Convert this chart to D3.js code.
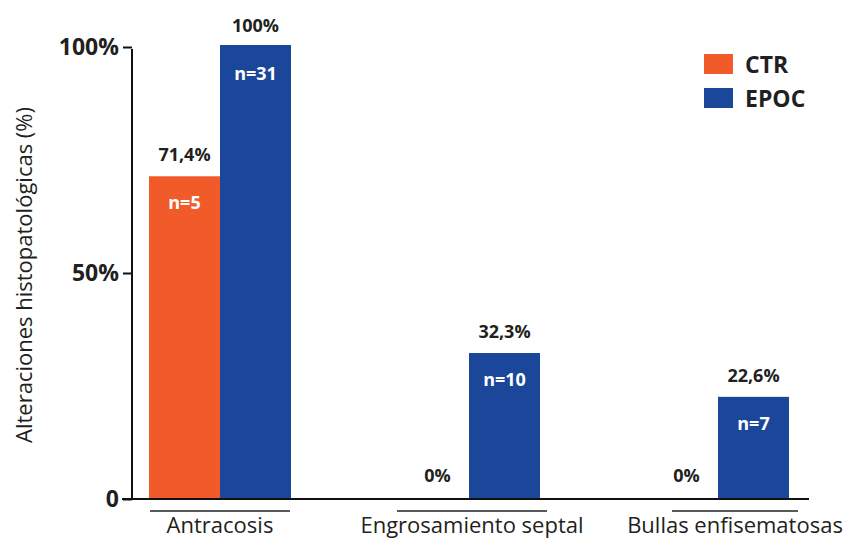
<!DOCTYPE html>
<html>
<head>
<meta charset="utf-8">
<script src="https://cdn.jsdelivr.net/npm/d3@7"></script>
<style>
  html, body { margin: 0; padding: 0; background: #fff; }
  svg { display: block; }
  text { font-family: "Open Sans", "Noto Sans", sans-serif; fill: #231f20; }
</style>
</head>
<body>
<svg id="chart" width="846" height="540"></svg>
<script>
// ---- data ----
const categories = ["Antracosis", "Engrosamiento septal", "Bullas enfisematosas"];
const seriesNames = ["CTR", "EPOC"];
const ctrValues = [71.4, 0, 0];
const epocValues = [100, 32.3, 22.6];
const ctrValueLabels = ["71,4%", "0%", "0%"];
const epocValueLabels = ["100%", "32,3%", "22,6%"];
const ctrCounts = ["n=5", "", ""];
const epocCounts = ["n=31", "n=10", "n=7"];
const yTickValues = [0, 50, 100];
const yTickLabels = ["0", "50%", "100%"];
const yTitle = "Alteraciones histopatológicas (%)";

// ---- styles ----
const colors = { CTR: "#f15a29", EPOC: "#1b479b" };
const labelShift = [0, 3, 17];
const underlineHalf = [70, 75, 63];

const svg = d3.select("#chart");

const x = d3.scalePoint().domain(categories).range([220, 718]);
const xs = d3.scaleBand().domain(seriesNames).range([-71, 71]).padding(0);
const y = d3.scaleLinear().domain([0, 100]).range([499, 47]);

const rows = [];
categories.forEach((c, i) => {
  rows.push({ cat: c, i, s: "CTR", v: ctrValues[i], lab: ctrValueLabels[i], n: ctrCounts[i] });
  rows.push({ cat: c, i, s: "EPOC", v: epocValues[i], lab: epocValueLabels[i], n: epocCounts[i] });
});

// bars
svg.append("g").selectAll("rect").data(rows.filter(d => d.v > 0)).join("rect")
  .attr("x", d => x(d.cat) + xs(d.s))
  .attr("width", xs.bandwidth())
  .attr("y", d => y(d.v) - (d.v === 100 ? 2 : 0))
  .attr("height", d => y(0) - y(d.v) + (d.v === 100 ? 2 : 0))
  .attr("fill", d => colors[d.s]);

// value labels
svg.append("g").selectAll("text").data(rows).join("text")
  .attr("x", d => x(d.cat) + xs(d.s) + xs.bandwidth() / 2 + (d.v === 0 ? 4 : 0))
  .attr("y", d => y(d.v) - (d.v === 0 ? 17 : 15))
  .attr("text-anchor", "middle")
  .attr("font-size", 18)
  .attr("font-weight", "bold")
  .text(d => d.lab);

// n labels
svg.append("g").selectAll("text").data(rows.filter(d => d.n)).join("text")
  .attr("x", d => x(d.cat) + xs(d.s) + xs.bandwidth() / 2)
  .attr("y", d => y(d.v) + 33)
  .attr("text-anchor", "middle")
  .attr("font-size", 18)
  .attr("font-weight", "bold")
  .style("fill", "#fff")
  .text(d => d.n);

// x baseline
svg.append("line")
  .attr("x1", 122).attr("x2", 809)
  .attr("y1", y(0)).attr("y2", y(0))
  .attr("stroke", "#111").attr("stroke-width", 2);

// y axis
const yAxis = d3.axisLeft(y)
  .tickValues(yTickValues)
  .tickFormat((d, i) => yTickLabels[i])
  .tickSizeInner(9)
  .tickSizeOuter(0)
  .tickPadding(4);
const gy = svg.append("g").attr("transform", "translate(132,0)").call(yAxis);
gy.select(".domain").attr("stroke", "#111").attr("stroke-width", 2)
  .attr("d", `M0,${y(100) + 2}V${y(0)}`);
gy.selectAll(".tick line").attr("stroke", "#111").attr("stroke-width", 2);
gy.selectAll(".tick text")
  .attr("font-family", "'Open Sans', 'Noto Sans', sans-serif")
  .attr("font-size", 23).attr("font-weight", "bold")
  .style("fill", "#231f20");

// category underlines and labels
const gx = svg.append("g");
gx.selectAll("line").data(categories).join("line")
  .attr("x1", (d, i) => x(d) + labelShift[i] - underlineHalf[i])
  .attr("x2", (d, i) => x(d) + labelShift[i] + underlineHalf[i])
  .attr("y1", 511).attr("y2", 511)
  .attr("stroke", "#58595b").attr("stroke-width", 2);
gx.selectAll("text").data(categories).join("text")
  .attr("x", (d, i) => x(d) + labelShift[i])
  .attr("y", 533)
  .attr("text-anchor", "middle")
  .attr("font-size", 22)
  .text(d => d);

// y title
svg.append("text")
  .attr("transform", "translate(32,275) rotate(-90)")
  .attr("text-anchor", "middle")
  .attr("font-size", 22)
  .text(yTitle);

// legend
const lg = svg.append("g").selectAll("g").data(seriesNames).join("g")
  .attr("transform", (d, i) => `translate(704,${54 + i * 34})`);
lg.append("rect").attr("width", 29).attr("height", 20).attr("fill", d => colors[d]);
lg.append("text").attr("x", 41).attr("y", 19)
  .attr("font-size", 23).attr("font-weight", "bold").text(d => d);
</script>
</body>
</html>
